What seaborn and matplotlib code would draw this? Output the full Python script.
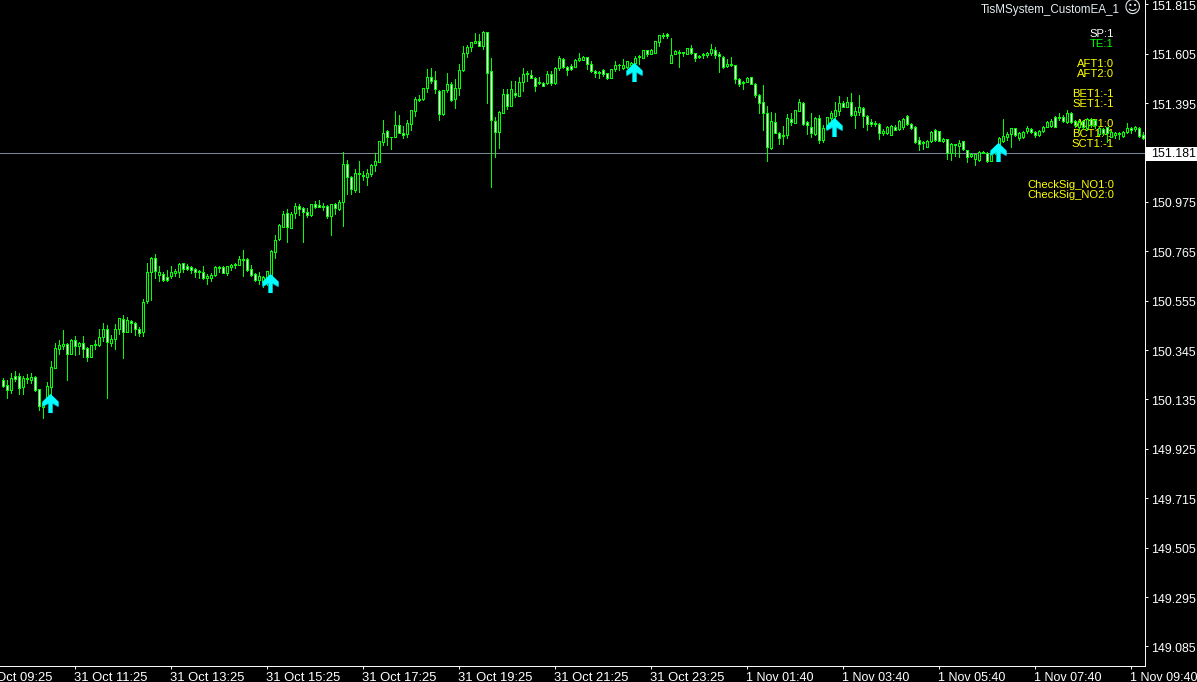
import numpy as np
import pandas as pd
import matplotlib
matplotlib.use("Agg")
import matplotlib.pyplot as plt
import seaborn as sns
from matplotlib.path import Path
from matplotlib.patches import Rectangle
from matplotlib.transforms import ScaledTranslation

# 5 minute candles (W = bear bar, B = bull bar)
bar_dir = (
    "WWBWWBBBWW" "BBBBBBWBWB" "WWBBBBWBBB" "WBWWWBBBWB" "WWBBBWWWWB"
    "WBBBBWBBBB" "BWWWBBBBBB" "BWBBWWWBWW" "WWBWBBWWBW" "WBBBBBWWBW"
    "WBBBBBBWWW" "BBWBBBBBBW" "BWWWBBWBWB" "BWWWWWBWBB" "WWWBBBWWWW"
    "WWBBBBBBBB" "BWBBBBWBBW" "BBWWBBBBWW" "WBBWWBBWWW" "WWBWWBBWBB"
    "WWWBWBBBBB" "WBWBBWWWWW" "BBBWBBWWWW" "BBBWWBWBBB" "WWBBBBWBBB"
    "BBBWBBBWWB" "BBBWBWBWWB" "WBWWBWWBBB" "BBWBWW"
)

high = [
    150.225, 150.218, 150.246, 150.256, 150.246, 150.235, 150.243, 150.246, 150.235, 150.180,
    150.122, 150.208, 150.299, 150.374, 150.388, 150.430, 150.374, 150.391, 150.405, 150.381,
    150.405, 150.360, 150.367, 150.388, 150.435, 150.460, 150.452, 150.409, 150.456, 150.480,
    150.494, 150.484, 150.473, 150.466, 150.442, 150.561, 150.717, 150.742, 150.753, 150.702,
    150.678, 150.685, 150.702, 150.690, 150.714, 150.717, 150.711, 150.702, 150.693, 150.685,
    150.702, 150.668, 150.671, 150.702, 150.702, 150.702, 150.702, 150.711, 150.717, 150.745,
    150.770, 150.738, 150.707, 150.671, 150.676, 150.660, 150.681, 150.770, 150.834, 150.881,
    150.936, 150.945, 150.933, 150.971, 150.966, 150.952, 150.950, 150.966, 150.979, 150.983,
    150.969, 150.960, 150.966, 150.971, 150.983, 151.187, 151.153, 151.085, 151.115, 151.149,
    151.106, 151.115, 151.134, 151.181, 151.234, 151.323, 151.279, 151.252, 151.361, 151.344,
    151.297, 151.323, 151.364, 151.419, 151.429, 151.460, 151.538, 151.544, 151.531, 151.449,
    151.452, 151.521, 151.486, 151.496, 151.561, 151.637, 151.642, 151.653, 151.691, 151.688,
    151.700, 151.698, 151.585, 151.334, 151.361, 151.453, 151.455, 151.489, 151.489, 151.507,
    151.544, 151.531, 151.534, 151.507, 151.506, 151.484, 151.531, 151.531, 151.547, 151.595,
    151.585, 151.552, 151.560, 151.581, 151.609, 151.595, 151.591, 151.574, 151.535, 151.531,
    151.538, 151.524, 151.538, 151.572, 151.561, 151.581, 151.575, 151.571, 151.595, 151.599,
    151.620, 151.620, 151.626, 151.659, 151.686, 151.691, 151.691, 151.671, 151.619, 151.620,
    151.612, 151.629, 151.642, 151.609, 151.599, 151.606, 151.612, 151.646, 151.632, 151.611,
    151.594, 151.581, 151.592, 151.557, 151.500, 151.489, 151.504, 151.506, 151.479, 151.433,
    151.472, 151.382, 151.358, 151.351, 151.273, 151.297, 151.347, 151.351, 151.365, 151.411,
    151.399, 151.320, 151.353, 151.337, 151.344, 151.302, 151.337, 151.363, 151.401, 151.425,
    151.404, 151.419, 151.436, 151.377, 151.429, 151.377, 151.344, 151.327, 151.320, 151.312,
    151.283, 151.297, 151.300, 151.302, 151.321, 151.331, 151.344, 151.312, 151.297, 151.252,
    151.234, 151.238, 151.276, 151.285, 151.276, 151.248, 151.242, 151.224, 151.221, 151.238,
    151.234, 151.195, 151.183, 151.178, 151.192, 151.191, 151.188, 151.183, 151.214, 151.249,
    151.326, 151.273, 151.290, 151.290, 151.273, 151.278, 151.297, 151.287, 151.276, 151.280,
    151.297, 151.320, 151.326, 151.340, 151.351, 151.344, 151.365, 151.355, 151.323, 151.323,
    151.323, 151.330, 151.330, 151.326, 151.295, 151.287, 151.295, 151.278, 151.273, 151.273,
    151.276, 151.312, 151.295, 151.297, 151.295, 151.273,
]

body_top = [
    150.218, 150.195, 150.225, 150.235, 150.235, 150.226, 150.226, 150.229, 150.229, 150.178,
    150.119, 150.192, 150.272, 150.352, 150.365, 150.369, 150.371, 150.388, 150.386, 150.375,
    150.375, 150.354, 150.365, 150.369, 150.399, 150.435, 150.433, 150.391, 150.433, 150.480,
    150.476, 150.472, 150.470, 150.459, 150.433, 150.548, 150.676, 150.736, 150.735, 150.678,
    150.667, 150.654, 150.676, 150.680, 150.710, 150.714, 150.702, 150.700, 150.688, 150.680,
    150.678, 150.659, 150.666, 150.698, 150.700, 150.698, 150.701, 150.708, 150.711, 150.731,
    150.732, 150.732, 150.688, 150.667, 150.659, 150.654, 150.680, 150.766, 150.813, 150.877,
    150.922, 150.926, 150.922, 150.957, 150.957, 150.947, 150.930, 150.964, 150.964, 150.960,
    150.957, 150.956, 150.964, 150.964, 150.973, 151.134, 151.134, 151.079, 151.099, 151.099,
    151.088, 151.096, 151.130, 151.147, 151.232, 151.266, 151.278, 151.252, 151.303, 151.303,
    151.269, 151.309, 151.364, 151.411, 151.411, 151.460, 151.507, 151.504, 151.492, 151.448,
    151.452, 151.475, 151.475, 151.458, 151.534, 151.606, 151.632, 151.653, 151.660, 151.660,
    151.698, 151.696, 151.533, 151.320, 151.357, 151.432, 151.432, 151.453, 151.439, 151.486,
    151.520, 151.521, 151.516, 151.503, 151.483, 151.482, 151.517, 151.517, 151.543, 151.585,
    151.584, 151.550, 151.551, 151.579, 151.588, 151.589, 151.589, 151.560, 151.533, 151.528,
    151.534, 151.521, 151.538, 151.555, 151.558, 151.557, 151.572, 151.567, 151.585, 151.595,
    151.619, 151.619, 151.620, 151.657, 151.683, 151.683, 151.687, 151.598, 151.618, 151.613,
    151.611, 151.628, 151.629, 151.606, 151.595, 151.603, 151.609, 151.625, 151.620, 151.602,
    151.592, 151.560, 151.560, 151.555, 151.496, 151.484, 151.500, 151.504, 151.477, 151.431,
    151.401, 151.351, 151.317, 151.316, 151.269, 151.259, 151.330, 151.329, 151.364, 151.398,
    151.397, 151.313, 151.292, 151.330, 151.330, 151.287, 151.334, 151.351, 151.364, 151.394,
    151.394, 151.398, 151.398, 151.360, 151.377, 151.375, 151.341, 151.316, 151.312, 151.304,
    151.278, 151.295, 151.297, 151.293, 151.320, 151.327, 151.341, 151.306, 151.293, 151.238,
    151.231, 151.235, 151.270, 151.279, 151.276, 151.242, 151.241, 151.219, 151.219, 151.224,
    151.232, 151.194, 151.177, 151.177, 151.188, 151.188, 151.184, 151.181, 151.210, 151.245,
    151.255, 151.263, 151.287, 151.289, 151.268, 151.272, 151.287, 151.283, 151.273, 151.278,
    151.295, 151.316, 151.320, 151.337, 151.337, 151.337, 151.351, 151.354, 151.319, 151.316,
    151.320, 151.326, 151.326, 151.323, 151.287, 151.283, 151.292, 151.273, 151.269, 151.269,
    151.272, 151.287, 151.287, 151.293, 151.287, 151.259,
]

body_bot = [
    150.192, 150.175, 150.175, 150.221, 150.184, 150.190, 150.221, 150.218, 150.175, 150.109,
    150.105, 150.140, 150.190, 150.270, 150.351, 150.364, 150.330, 150.330, 150.364, 150.364,
    150.351, 150.316, 150.317, 150.367, 150.367, 150.399, 150.378, 150.377, 150.391, 150.433,
    150.423, 150.423, 150.459, 150.433, 150.418, 150.423, 150.555, 150.678, 150.683, 150.664,
    150.643, 150.643, 150.660, 150.673, 150.678, 150.691, 150.690, 150.685, 150.676, 150.676,
    150.653, 150.653, 150.653, 150.666, 150.695, 150.674, 150.673, 150.700, 150.708, 150.708,
    150.729, 150.687, 150.666, 150.643, 150.643, 150.636, 150.650, 150.664, 150.762, 150.817,
    150.869, 150.867, 150.865, 150.929, 150.946, 150.933, 150.919, 150.920, 150.953, 150.955,
    150.955, 150.916, 150.916, 150.950, 150.945, 150.973, 151.082, 151.028, 151.025, 151.092,
    151.083, 151.082, 151.095, 151.130, 151.146, 151.231, 151.252, 151.249, 151.252, 151.269,
    151.261, 151.262, 151.304, 151.363, 151.408, 151.411, 151.460, 151.489, 151.453, 151.347,
    151.347, 151.452, 151.408, 151.411, 151.458, 151.534, 151.606, 151.632, 151.652, 151.639,
    151.639, 151.521, 151.323, 151.273, 151.273, 151.354, 151.384, 151.384, 151.431, 151.426,
    151.486, 151.517, 151.503, 151.469, 151.479, 151.469, 151.479, 151.482, 151.479, 151.545,
    151.550, 151.537, 151.541, 151.550, 151.578, 151.579, 151.560, 151.533, 151.523, 151.523,
    151.518, 151.501, 151.503, 151.538, 151.555, 151.545, 151.547, 151.557, 151.564, 151.589,
    151.585, 151.602, 151.605, 151.609, 151.654, 151.680, 151.679, 151.567, 151.605, 151.606,
    151.608, 151.605, 151.608, 151.586, 151.589, 151.598, 151.601, 151.606, 151.599, 151.595,
    151.550, 151.551, 151.555, 151.496, 151.475, 151.480, 151.486, 151.477, 151.429, 151.394,
    151.354, 151.210, 151.202, 151.269, 151.248, 151.256, 151.259, 151.316, 151.312, 151.363,
    151.304, 151.302, 151.269, 151.262, 151.238, 151.238, 151.287, 151.330, 151.340, 151.361,
    151.380, 151.380, 151.344, 151.344, 151.358, 151.341, 151.306, 151.306, 151.304, 151.269,
    151.266, 151.266, 151.259, 151.282, 151.283, 151.295, 151.304, 151.287, 151.228, 151.222,
    151.227, 151.210, 151.235, 151.238, 151.235, 151.234, 151.181, 151.181, 151.215, 151.214,
    151.200, 151.167, 151.171, 151.156, 151.153, 151.184, 151.150, 151.150, 151.181, 151.210,
    151.234, 151.249, 151.262, 151.259, 151.248, 151.252, 151.276, 151.272, 151.259, 151.259,
    151.278, 151.295, 151.297, 151.295, 151.333, 151.320, 151.314, 151.313, 151.302, 151.292,
    151.295, 151.289, 151.302, 151.302, 151.263, 151.266, 151.266, 151.252, 151.259, 151.263,
    151.255, 151.270, 151.280, 151.283, 151.255, 151.245,
]

low = [
    150.187, 150.143, 150.164, 150.215, 150.158, 150.158, 150.204, 150.204, 150.171, 150.090,
    150.058, 150.119, 150.147, 150.267, 150.328, 150.350, 150.218, 150.327, 150.324, 150.328,
    150.317, 150.300, 150.316, 150.350, 150.362, 150.384, 150.143, 150.362, 150.350, 150.413,
    150.313, 150.423, 150.423, 150.409, 150.406, 150.405, 150.547, 150.558, 150.653, 150.639,
    150.640, 150.639, 150.651, 150.661, 150.657, 150.676, 150.685, 150.674, 150.657, 150.650,
    150.646, 150.626, 150.639, 150.661, 150.676, 150.671, 150.666, 150.685, 150.695, 150.705,
    150.661, 150.683, 150.661, 150.637, 150.626, 150.615, 150.622, 150.664, 150.736, 150.813,
    150.867, 150.806, 150.865, 150.908, 150.919, 150.806, 150.912, 150.916, 150.947, 150.955,
    150.940, 150.908, 150.834, 150.923, 150.940, 150.872, 151.008, 151.008, 151.018, 151.018,
    151.068, 151.047, 151.086, 151.108, 151.146, 151.217, 151.217, 151.200, 151.252, 151.266,
    151.248, 151.252, 151.280, 151.341, 151.404, 151.408, 151.443, 151.482, 151.439, 151.324,
    151.344, 151.443, 151.404, 151.375, 151.431, 151.533, 151.592, 151.618, 151.649, 151.637,
    151.625, 151.394, 151.039, 151.167, 151.205, 151.354, 151.370, 151.382, 151.422, 151.425,
    151.448, 151.489, 151.500, 151.448, 151.476, 151.467, 151.476, 151.472, 151.476, 151.535,
    151.545, 151.514, 151.535, 151.548, 151.575, 151.578, 151.540, 151.528, 151.507, 151.503,
    151.510, 151.496, 151.501, 151.533, 151.535, 151.540, 151.545, 151.550, 151.543, 151.560,
    151.585, 151.595, 151.602, 151.609, 151.637, 151.673, 151.673, 151.567, 151.605, 151.550,
    151.596, 151.605, 151.605, 151.575, 151.588, 151.588, 151.589, 151.599, 151.588, 151.528,
    151.545, 151.550, 151.554, 151.479, 151.469, 151.455, 151.486, 151.476, 151.422, 151.351,
    151.280, 151.150, 151.198, 151.266, 151.221, 151.221, 151.245, 151.302, 151.312, 151.363,
    151.303, 151.262, 151.252, 151.259, 151.227, 151.231, 151.287, 151.295, 151.323, 151.344,
    151.377, 151.377, 151.340, 151.290, 151.344, 151.295, 151.280, 151.299, 151.297, 151.242,
    151.259, 151.262, 151.259, 151.280, 151.280, 151.283, 151.302, 151.283, 151.227, 151.195,
    151.201, 151.210, 151.231, 151.234, 151.234, 151.231, 151.156, 151.153, 151.170, 151.167,
    151.195, 151.146, 151.167, 151.132, 151.150, 151.181, 151.143, 151.149, 151.178, 151.202,
    151.231, 151.238, 151.208, 151.256, 151.238, 151.248, 151.269, 151.269, 151.252, 151.256,
    151.273, 151.293, 151.295, 151.292, 151.323, 151.316, 151.312, 151.312, 151.295, 151.280,
    151.283, 151.280, 151.295, 151.287, 151.259, 151.259, 151.231, 151.249, 151.245, 151.242,
    151.252, 151.266, 151.266, 151.278, 151.249, 151.241,
]

# buy signal arrows
arrow_bar = [12, 67, 158, 208, 249]
arrow_price = [150.118, 150.628, 151.527, 151.295, 151.187]

current_price = 151.181
price_ticks = [151.815, 151.605, 151.395, 151.185, 150.975, 150.765, 150.555, 150.345,
               150.135, 149.925, 149.715, 149.505, 149.295, 149.085]
price_labels = [f"{p:.3f}" for p in price_ticks]
price_labels[3] = ""  # hidden under the current price box
time_ticks = [18, 42, 66, 90, 114, 138, 162, 186, 210, 234, 258, 282]
time_labels = ["31 Oct 11:25", "31 Oct 13:25", "31 Oct 15:25", "31 Oct 17:25", "31 Oct 19:25",
               "31 Oct 21:25", "31 Oct 23:25", "1 Nov 01:40", "1 Nov 03:40", "1 Nov 05:40",
               "1 Nov 07:40", "1 Nov 09:40"]
first_time_bar = -6
first_time_label = "31 Oct 09:25"

ea_name = "TisMSystem_CustomEA_1"
status_text = ["SP:1", "TE:1", "AFT1:0", "AFT2:0", "BET1:-1", "SET1:-1", "ACT1:0", "BCT1:-1",
               "SCT1:-1", "CheckSig_NO1:0", "CheckSig_NO2:0"]
status_color = ["white", "#00ff00"] + ["yellow"] * 9
status_row = [34, 44, 64, 74, 94, 104, 124, 134, 144, 185, 195]

GREEN = "#00ff00"
W, H = 1197, 682
LW = 0.7  # a hair under 1 px so the non-antialiased lines stay 1 px wide

sns.set_theme(style="dark", rc={
    "axes.facecolor": "black",
    "figure.facecolor": "black",
    "savefig.facecolor": "black",
    "axes.grid": False,
})
plt.rcParams["font.family"] = ["Liberation Sans", "DejaVu Sans"]

df = pd.DataFrame({"bar": np.arange(len(high)), "high": high, "top": body_top,
                   "bot": body_bot, "low": low, "dir": list(bar_dir)})
wicks = df.melt(id_vars="bar", value_vars=["high", "low"], value_name="price")

fig = plt.figure(figsize=(W / 100, H / 100), dpi=100)
ax = fig.add_axes([0, 16 / H, 1145 / W, 666 / H])

ax.axhline(current_price, color="#778899", lw=LW, antialiased=False, zorder=1)

# status texts go under the candles
for txt, col, row in zip(status_text, status_color, status_row):
    ax.text(1114 / 1145, 1 - row / 666, txt, color=col, fontsize=8.1, ha="right", va="center",
            transform=ax.transAxes, zorder=1.5)

sns.lineplot(data=wicks, x="bar", y="price", units="bar", estimator=None, sort=False,
             color=GREEN, linewidth=LW, antialiased=False, legend=False, ax=ax, zorder=2)

for kind, fill in [("B", "black"), ("W", "white")]:
    sub = df[df["dir"] == kind]
    ax.bar(sub["bar"], sub["top"] - sub["bot"], bottom=sub["bot"], width=0.5, facecolor=fill,
           edgecolor=GREEN, linewidth=LW, antialiased=False, zorder=3)

# arrow is a path with a darker copy under it for the shaded wing edge
arrow_shade = Path([(-1, 9.5), (7, 1.8), (7, -3.8), (1, -0.4), (1, -9.5), (-3, -9.5), (-3, -0.4),
                    (-9, -3.8), (-9, 1.8), (-1, 9.5)])
arrow_body = Path([(-1, 9.5), (7, 1.8), (7, -2.8), (1, 0.6), (1, -9.5), (-3, -9.5), (-3, 0.6),
                   (-9, -2.8), (-9, 1.8), (-1, 9.5)])
sns.scatterplot(x=arrow_bar, y=arrow_price, marker=arrow_shade, s=188, color="#00b4c8",
                linewidth=0, legend=False, ax=ax, zorder=4)
sns.scatterplot(x=arrow_bar, y=arrow_price, marker=arrow_body, s=188, color="#00ffff",
                linewidth=0, legend=False, ax=ax, zorder=5)

ax.set_xlim(-2.5 / 4, (1145 - 2.5) / 4)
ax.set_ylim(149.002, 151.833)
ax.set_xlabel("")
ax.set_ylabel("")

ax.yaxis.tick_right()
ax.set_yticks(price_ticks, price_labels)
ax.set_xticks(time_ticks, time_labels)
ax.tick_params(axis="both", which="major", colors="white", length=2.2, width=LW,
               bottom=True, right=True, left=False, top=False)
ax.tick_params(axis="y", pad=2, labelsize=8.9)
ax.tick_params(axis="x", pad=2.2, labelsize=9.4)
for t in ax.get_xticklabels():
    t.set_ha("left")
    if "Nov" in t.get_text():
        t.set_fontsize(9)  # keeps the last label inside the window
down_1px = ScaledTranslation(0, -1 / 100, fig.dpi_scale_trans)
for t in ax.get_yticklabels():
    t.set_transform(t.get_transform() + down_1px)
ax.text(first_time_bar - 0.25, -0.0095, first_time_label, color="white", fontsize=9.4, ha="left",
        va="top", transform=ax.get_xaxis_transform(), clip_on=False)

for s in ["left", "top"]:
    ax.spines[s].set_visible(False)
for s in ["right", "bottom"]:
    ax.spines[s].set_visible(True)
    ax.spines[s].set_color("white")
    ax.spines[s].set_linewidth(LW)

# current price box on the scale
ax.add_patch(Rectangle((1.0012, current_price - 0.034), 0.05, 0.06, facecolor="white", edgecolor="none",
                       transform=ax.get_yaxis_transform(), clip_on=False, zorder=6))
ax.text(1151 / 1145, current_price - 0.004, f"{current_price:.3f}", color="black", fontsize=8.9, va="center",
        transform=ax.get_yaxis_transform(), clip_on=False, zorder=7)

ax.text(1120 / 1145, 1 - 9.5 / 666, ea_name, color="#e4ecf0", fontsize=8.4, ha="right", va="center",
        transform=ax.transAxes)
ax.text(1132 / 1145, 1 - 8 / 666, "\u263a", color="#e4ecf0", fontsize=12, ha="center", va="center",
        family="DejaVu Sans", transform=ax.transAxes)

fig.savefig("out.png", dpi=100)
